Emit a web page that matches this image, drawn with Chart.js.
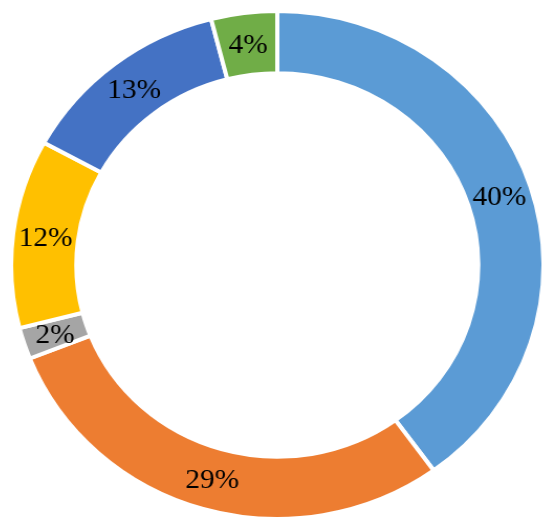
<!DOCTYPE html>
<html>
<head>
<meta charset="utf-8">
<script src="https://cdn.jsdelivr.net/npm/chart.js@4/dist/chart.umd.min.js"></script>
<style>
  html, body { margin: 0; padding: 0; background: #ffffff; }
  body { width: 550px; height: 527px; position: relative; overflow: hidden; }
  #c { position: absolute; left: 9px; top: 0; width: 512px; height: 527px;
       transform: scaleX(1.048); transform-origin: 0 0; }
</style>
</head>
<body>
<canvas id="c" width="512" height="527"></canvas>
<script>
const categories = ["Category 1", "Category 2", "Category 3", "Category 4", "Category 5", "Category 6"];
const shares = [40, 29, 2, 12, 13, 4];
const sliceColors = ["#5B9BD5", "#ED7D31", "#A5A5A5", "#FFC000", "#4472C4", "#70AD47"];

const percentLabels = {
  id: "percentLabels",
  afterDatasetsDraw(chart) {
    const ctx = chart.ctx;
    const meta = chart.getDatasetMeta(0);
    const total = shares.reduce((a, b) => a + b, 0);
    ctx.save();
    ctx.font = "28px 'Liberation Serif', 'Times New Roman', serif";
    ctx.fillStyle = "#000000";
    ctx.textAlign = "center";
    ctx.textBaseline = "middle";
    meta.data.forEach((arc, i) => {
      const p = arc.tooltipPosition();
      const pct = Math.round(shares[i] / total * 100) + "%";
      ctx.fillText(pct, p.x, p.y + 2);
    });
    ctx.restore();
  }
};

new Chart(document.getElementById("c"), {
  type: "doughnut",
  data: {
    labels: categories,
    datasets: [{
      data: shares,
      backgroundColor: sliceColors,
      borderColor: "#ffffff",
      borderWidth: 4,
      hoverOffset: 0
    }]
  },
  options: {
    responsive: false,
    animation: false,
    devicePixelRatio: 1,
    cutout: "75.5%",
    rotation: 0,
    layout: { padding: { top: 9, bottom: 6, left: 0, right: 0 } },
    plugins: {
      legend: { display: false },
      tooltip: { enabled: false }
    }
  },
  plugins: [percentLabels]
});
</script>
</body>
</html>
